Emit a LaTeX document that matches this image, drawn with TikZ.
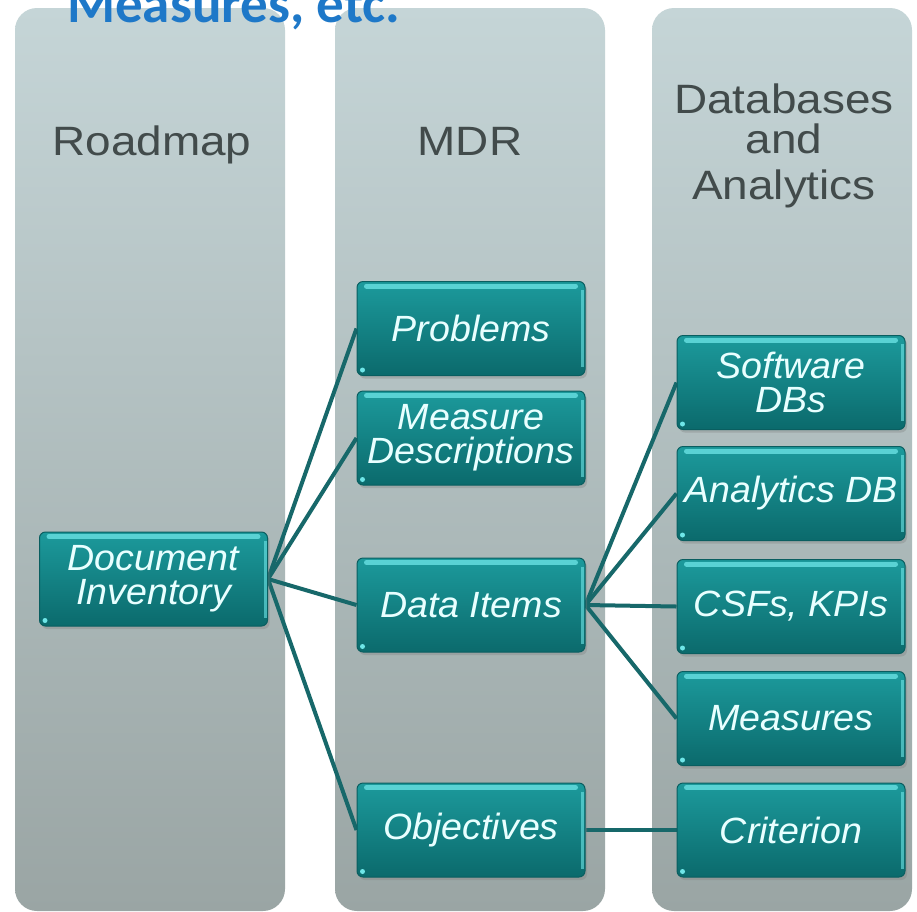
\documentclass[tikz,border=0pt]{standalone}
\usepackage{fontspec}
\setmainfont{Liberation Sans}
\newfontfamily\calfont{Carlito}
\newfontfamily\hdrfont[FakeStretch=1.12]{Liberation Sans}
\newfontfamily\boxfont[FakeStretch=1.03]{Liberation Sans}
\usetikzlibrary{shadows}
\pgfdeclarelayer{bg}
\pgfdeclarelayer{mid}
\pgfsetlayers{bg,mid,main}
\definecolor{colTop}{HTML}{C5D5D7}
\definecolor{colBot}{HTML}{9AA5A4}
\definecolor{boxTop}{HTML}{1C9A9C}
\definecolor{boxBot}{HTML}{0B6A6C}
\definecolor{boxLine}{HTML}{0A5E60}
\definecolor{hlCol}{HTML}{6FE6E8}
\definecolor{txtBox}{HTML}{E8FFFF}
\definecolor{hdr}{HTML}{424B4B}
\definecolor{lnk}{HTML}{17686A}
\definecolor{ttl}{HTML}{1E78C8}
\begin{document}
\begin{tikzpicture}[x=1pt,y=-1pt,
  colbox/.style={top color=colTop,bottom color=colBot,rounded corners=22pt},
  tbox/.style={rectangle,rounded corners=6pt,minimum width=228pt,minimum height=94pt,inner sep=0pt,
    top color=boxTop,bottom color=boxBot,draw=boxLine,line width=1pt,text=txtBox,align=center,
    font=\boxfont\fontsize{36.5}{34}\selectfont\itshape,
    drop shadow={shadow xshift=2pt,shadow yshift=-3pt,opacity=0.35}},
  hdrtext/.style={text=hdr,font=\hdrfont\fontsize{41}{40}\selectfont,align=center,anchor=base},
  link/.style={draw=lnk,line width=4pt},
  hltop/.style={draw=hlCol,line width=5pt,line cap=round,opacity=0.75},
  hlside/.style={draw=hlCol,line width=3pt,opacity=0.6}
]
\useasboundingbox (0,0) rectangle (917,911);
\begin{pgfonlayer}{bg}
  \fill[white] (0,0) rectangle (917,911);
  \shade[colbox] (15,8) rectangle (285,911);
  \shade[colbox] (335,8) rectangle (605,911);
  \shade[colbox] (652,8) rectangle (912,911);
\end{pgfonlayer}

\node[anchor=base west,text=ttl,inner sep=0pt,font=\calfont\bfseries\fontsize{55}{55}\selectfont] (title) at (67,22) {Measures, etc.};

\node[hdrtext] (h1) at (152,155) {Roadmap};
\node[hdrtext] (h2) at (470,155) {MDR};
\node[hdrtext,anchor=north] (h3) at (784,80) {Databases\\and\\[6pt]Analytics};

\node[tbox] (doc) at (153.5,579) {Document\\Inventory};
\node[tbox] (prob) at (471,328.5) {Problems};
\node[tbox] (meas) at (471,438) {Measure\\Descriptions};
\node[tbox] (data) at (471,605) {Data Items};
\node[tbox] (obj) at (471,830) {Objectives};
\node[tbox] (sw) at (791,382.5) {Software\\DBs};
\node[tbox] (an) at (791,493.5) {Analytics DB};
\node[tbox] (csf) at (791,606.5) {CSFs, KPIs};
\node[tbox] (msr) at (791,718.5) {Measures};
\node[tbox] (crit) at (791,830) {Criterion};

\foreach \n in {doc,prob,meas,data,obj,sw,an,csf,msr,crit}{
  \draw[hltop] ([xshift=10pt,yshift=-5pt]\n.north west) -- ([xshift=-10pt,yshift=-5pt]\n.north east);
  \draw[hlside] ([xshift=-3pt,yshift=-9pt]\n.north east) -- ([xshift=-3pt,yshift=9pt]\n.south east);
  \fill[hlCol] ([xshift=6pt,yshift=6pt]\n.south west) circle (2.5pt);
}

\begin{pgfonlayer}{mid}
  \foreach \t in {prob,meas,data,obj}{ \draw[link] (doc.east) -- (\t.west); }
  \foreach \t in {sw,an,csf,msr}{ \draw[link] (data.east) -- (\t.west); }
  \draw[link] (obj.east) -- (crit.west);
\end{pgfonlayer}
\end{tikzpicture}
\end{document}
